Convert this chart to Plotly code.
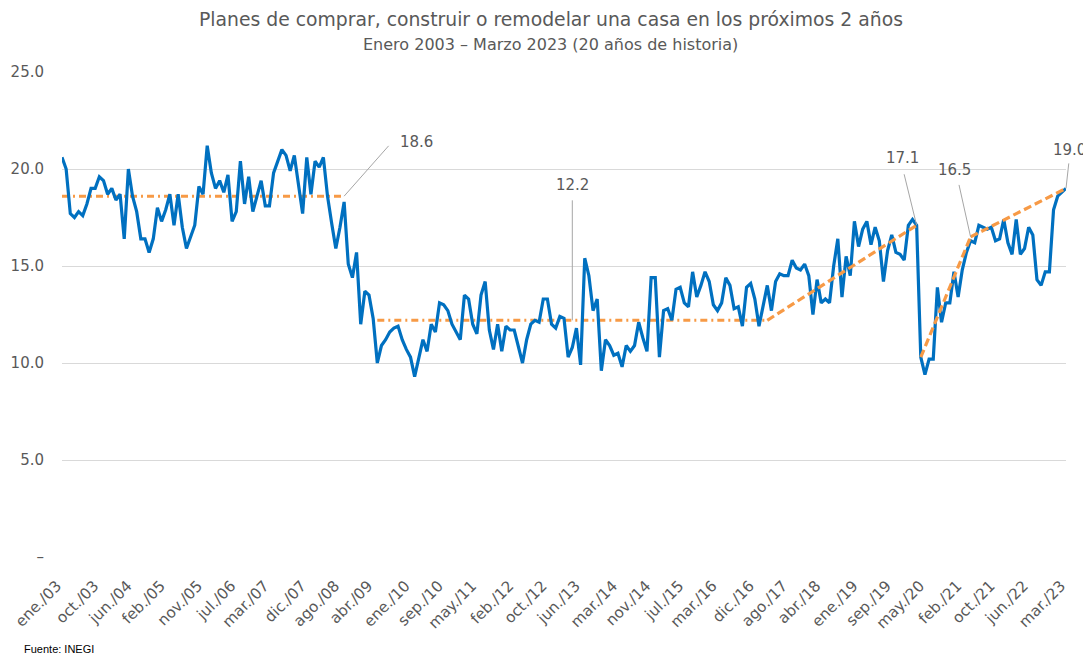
import plotly.graph_objects as go

# ---------------- data ----------------
values = [
    20.6, 20.0, 17.7, 17.5, 17.8, 17.6, 18.2, 19.0, 19.0, 19.6, 19.4, 18.7,
    19.0, 18.4, 18.7, 16.4, 20.0, 18.6, 17.8, 16.4, 16.4, 15.7, 16.4, 18.0,
    17.3, 17.9, 18.7, 17.1, 18.7, 17.0, 15.9, 16.5, 17.1, 19.1, 18.7, 21.2,
    19.8, 19.0, 19.4, 18.8, 19.7, 17.3, 17.8, 20.4, 18.2, 19.6, 17.8, 18.6,
    19.4, 18.1, 18.1, 19.8, 20.4, 21.0, 20.7, 19.9, 20.7, 19.2, 17.7, 20.6,
    18.7, 20.4, 20.1, 20.6, 18.6, 17.2, 15.9, 17.0, 18.3, 15.1, 14.4, 15.7,
    12.0, 13.7, 13.5, 12.3, 10.0, 10.9, 11.2, 11.6, 11.8, 11.9, 11.2, 10.7,
    10.3, 9.3, 10.3, 11.2, 10.6, 12.0, 11.6, 13.1, 13.0, 12.7, 12.0, 11.6,
    11.2, 13.5, 13.3, 12.0, 11.5, 13.5, 14.2, 11.7, 10.7, 12.0, 10.6, 11.9,
    11.7, 11.7, 10.9, 10.0, 11.2, 12.0, 12.2, 12.1, 13.3, 13.3, 12.0, 11.8,
    12.4, 12.3, 10.3, 10.8, 11.8, 9.9, 15.4, 14.5, 12.7, 13.3, 9.6, 11.2,
    10.9, 10.4, 10.5, 9.8, 10.9, 10.6, 10.9, 12.1, 11.3, 10.6, 14.4, 14.4,
    10.3, 12.7, 12.8, 12.2, 13.8, 13.9, 13.1, 12.9, 14.7, 13.4, 14.0, 14.7,
    14.2, 13.0, 12.7, 13.1, 14.4, 14.0, 12.8, 12.9, 11.9, 13.9, 14.1, 13.3,
    11.9, 12.9, 14.0, 12.7, 14.2, 14.6, 14.5, 14.5, 15.3, 14.9, 14.8, 15.1,
    14.5, 12.5, 14.3, 13.1, 13.3, 13.1, 15.0, 16.4, 13.4, 15.5, 14.5, 17.3,
    16.0, 16.9, 17.3, 16.1, 17.0, 16.3, 14.2, 15.8, 16.6, 15.7, 15.6, 15.3,
    17.1, 17.4, 17.1, 10.3, 9.4, 10.2, 10.2, 13.9, 12.1, 13.1, 13.1, 14.7,
    13.4, 14.8, 15.7, 16.3, 16.2, 17.1, 17.0, 16.9, 17.0, 16.3, 16.4, 17.4,
    16.2, 15.6, 17.4, 15.6, 15.9, 17.0, 16.6, 14.3, 14.0, 14.7, 14.7, 17.9,
    18.6, 18.8, 19.0,
]

tick_labels = [
    "ene./03", "oct./03", "jun./04", "feb./05", "nov./05", "jul./06",
    "mar./07", "dic./07", "ago./08", "abr./09", "ene./10", "sep./10",
    "may./11", "feb./12", "oct./12", "jun./13", "mar./14", "nov./14",
    "jul./15", "mar./16", "dic./16", "ago./17", "abr./18", "ene./19",
    "sep./19", "may./20", "feb./21", "oct./21", "jun./22", "mar./23",
]

month_abbr = ["ene", "feb", "mar", "abr", "may", "jun",
              "jul", "ago", "sep", "oct", "nov", "dic"]
start_year = 2003

y_ticks = [0, 5, 10, 15, 20, 25]
y_tick_text = ["–", "5.0", "10.0", "15.0", "20.0", "25.0"]

title_line1 = "Planes de comprar, construir o remodelar una casa en los próximos 2 años"
title_line2 = "Enero 2003 – Marzo 2023 (20 años de historia)"
source_text = "Fuente: INEGI"

# reference / trend lines (month index, value)
avg1_x, avg1_y = [0, 68], [18.6, 18.6]
avg2_x, avg2_y = [76, 170], [12.2, 12.2]
trend1_x, trend1_y = [170, 206], [12.2, 17.1]
trend2_x, trend2_y = [207, 219], [10.3, 16.5]
trend3_x, trend3_y = [219, 242], [16.5, 19.0]

# callouts: (month index, value, label, tail dx, tail dy, text dx, text dy)
callouts = [
    (68, 18.6, "18.6", 46, -52, 72, 54),
    (123, 12.2, "12.2", 0, -122, 0, 135),
    (206, 17.1, "17.1", -13, -53, -14, 67),
    (219, 16.5, "16.5", -12, -54, -16, 67),
    (242, 19.0, "19.0", 3, -27, 3, 38),
]

# ---------------- figure ----------------
x = list(range(len(values)))


def label_index(lbl):
    m, yy = lbl.rstrip().split("./")
    return (2000 + int(yy) - start_year) * 12 + month_abbr.index(m)


tick_vals = [label_index(t) for t in tick_labels]

BLUE = "#0070C0"
ORANGE = "#F79A46"
GRAY_TXT = "#595959"
FONT = "DejaVu Sans"

fig = go.Figure()

for xs, ys in [(avg1_x, avg1_y), (avg2_x, avg2_y)]:
    fig.add_trace(go.Scatter(x=xs, y=ys, mode="lines",
                             line=dict(color=ORANGE, width=3, dash="7px,4px,2px,4px"),
                             hoverinfo="skip", showlegend=False))

fig.add_trace(go.Scatter(x=x, y=values, mode="lines",
                         line=dict(color=BLUE, width=3.2),
                         showlegend=False))

for xs, ys in [(trend1_x, trend1_y), (trend2_x, trend2_y), (trend3_x, trend3_y)]:
    fig.add_trace(go.Scatter(x=xs, y=ys, mode="lines",
                             line=dict(color=ORANGE, width=3.2, dash="8px,4px"),
                             hoverinfo="skip", showlegend=False))

for (cx, cy, txt, tdx, tdy, lx, ly) in callouts:
    fig.add_annotation(x=cx, y=cy, xref="x", yref="y", text=" ",
                       showarrow=True, arrowhead=0, arrowwidth=1,
                       arrowcolor="#A6A6A6", ax=tdx, ay=tdy,
                       font=dict(size=1))
    fig.add_annotation(x=cx, y=cy, xref="x", yref="y", text=txt,
                       showarrow=False, xshift=lx, yshift=ly,
                       font=dict(family=FONT, size=15, color=GRAY_TXT))

# two-line title as separate annotations for exact placement
fig.add_annotation(x=0.487, y=1, xref="paper", yref="paper", text=title_line1,
                   showarrow=False, xanchor="center", yanchor="middle", yshift=53,
                   font=dict(family=FONT, size=18.8, color=GRAY_TXT))
fig.add_annotation(x=0.487, y=1, xref="paper", yref="paper", text=title_line2,
                   showarrow=False, xanchor="center", yanchor="middle", yshift=28,
                   font=dict(family=FONT, size=16, color=GRAY_TXT))

fig.add_annotation(x=0, y=0, xref="paper", yref="paper", text=source_text,
                   showarrow=False, xanchor="left", yanchor="middle",
                   xshift=-40, yshift=-92,
                   font=dict(family="Liberation Sans", size=11, color="#000000"))

# the page body adds an 8px margin, so the figure is 8px smaller on each axis
fig.update_layout(
    width=1083, height=649,
    margin=dict(l=54, r=25, t=64, b=100, autoexpand=False),
    paper_bgcolor="white", plot_bgcolor="white",
    xaxis=dict(
        range=[0, len(values) - 1], tickmode="array", tickvals=tick_vals,
        ticktext=tick_labels, tickangle=-45, showgrid=False, zeroline=False,
        showline=False, ticks="", ticklabelstandoff=16, ticklabelshift=-5,
        automargin=False,
        tickfont=dict(family=FONT, size=15.2, color=GRAY_TXT),
    ),
    yaxis=dict(
        range=[0, 25], tickmode="array", tickvals=y_ticks, ticktext=y_tick_text,
        showgrid=True, gridcolor="#D9D9D9", gridwidth=1, zeroline=False,
        showline=False, ticks="", ticklabelstandoff=17, automargin=False,
        tickfont=dict(family=FONT, size=15, color=GRAY_TXT),
    ),
)

fig.write_html("out.html")
